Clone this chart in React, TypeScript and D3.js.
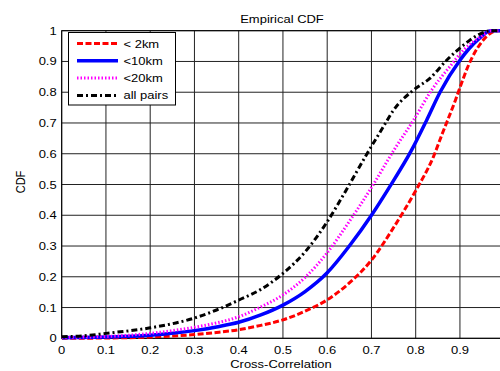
import { scaleLinear, line as d3Line, curveMonotoneX } from "d3";

const xTicks = [0, 0.1, 0.2, 0.3, 0.4, 0.5, 0.6, 0.7, 0.8, 0.9, 1];
const yTicks = [0, 0.1, 0.2, 0.3, 0.4, 0.5, 0.6, 0.7, 0.8, 0.9, 1];

const redX = [0, 0.1, 0.2, 0.3, 0.35, 0.4, 0.45, 0.5, 0.55, 0.6, 0.65, 0.7, 0.75, 0.8, 0.84, 0.86, 0.89, 0.9, 0.92, 0.95, 0.97, 0.985, 1];
const redY = [0, 0.001, 0.004, 0.012, 0.019, 0.028, 0.042, 0.06, 0.088, 0.125, 0.18, 0.254, 0.36, 0.48, 0.59, 0.665, 0.775, 0.815, 0.89, 0.965, 0.993, 1, 1];

const blueX = [0, 0.1, 0.2, 0.3, 0.35, 0.4, 0.45, 0.5, 0.55, 0.6, 0.65, 0.7, 0.74, 0.79, 0.825, 0.855, 0.9, 0.94, 0.97, 1];
const blueY = [0.002, 0.004, 0.01, 0.025, 0.037, 0.052, 0.076, 0.108, 0.152, 0.213, 0.3, 0.4, 0.49, 0.61, 0.71, 0.8, 0.904, 0.97, 1, 1];

const magentaX = [0, 0.1, 0.2, 0.3, 0.35, 0.4, 0.45, 0.5, 0.55, 0.6, 0.65, 0.7, 0.75, 0.795, 0.836, 0.877, 0.908, 0.946, 0.97, 1];
const magentaY = [0.003, 0.006, 0.016, 0.036, 0.05, 0.07, 0.102, 0.141, 0.198, 0.278, 0.38, 0.49, 0.61, 0.709, 0.807, 0.883, 0.937, 0.98, 1, 1];

const blackX = [0, 0.05, 0.1, 0.2, 0.3, 0.35, 0.4, 0.45, 0.5, 0.55, 0.6, 0.645, 0.69, 0.727, 0.75, 0.795, 0.832, 0.87, 0.908, 0.946, 0.97, 1];
const blackY = [0.005, 0.008, 0.016, 0.034, 0.066, 0.092, 0.124, 0.159, 0.211, 0.281, 0.379, 0.487, 0.6, 0.688, 0.742, 0.807, 0.845, 0.904, 0.953, 0.99, 1, 1];

const series = [
  { name: "< 2km", xs: redX, ys: redY, color: "#ff0000", width: 3, dash: "6,2.5" },
  { name: "<10km", xs: blueX, ys: blueY, color: "#0000ff", width: 3.5, dash: "" },
  { name: "<20km", xs: magentaX, ys: magentaY, color: "#ff00ff", width: 3, dash: "1.5,2" },
  { name: "all pairs", xs: blackX, ys: blackY, color: "#000000", width: 3, dash: "6,3,2,3" },
];

const W = 500;
const H = 371;
const left = 61.7;
const right = 504.2;
const top = 30.7;
const bottom = 338.3;
const font = "'Liberation Sans', Arial, sans-serif";
const stretch = 1.18;

function T({ x, y, anchor = "start", rotate = 0, children }: { x: number; y: number; anchor?: string; rotate?: number; children: any }) {
  return (
    <text
      transform={`translate(${x},${y}) scale(${stretch},1)${rotate ? ` rotate(${rotate})` : ""}`}
      fontSize={11}
      fontFamily={font}
      textAnchor={anchor}
      fill="#000"
    >
      {children}
    </text>
  );
}

export default function App() {
  const x = scaleLinear().domain([0, 1]).range([left, right]);
  const y = scaleLinear().domain([0, 1]).range([bottom, top]);

  const lineGen = d3Line<[number, number]>()
    .x((d) => x(d[0]))
    .y((d) => y(d[1]))
    .curve(curveMonotoneX);

  const legX = 68.5;
  const legY = 32.5;
  const rowH = 17.3;

  return (
    <div style={{ position: "absolute", left: 0, top: 0 }}>
      <svg width={W} height={H} style={{ display: "block", background: "#fff" }}>
        <defs>
          <clipPath id="plot">
            <rect x={left} y={top - 2} width={right - left} height={bottom - top + 4} />
          </clipPath>
        </defs>
        {/* grid */}
        {xTicks.map((t) => (
          <line key={"gx" + t} x1={x(t)} x2={x(t)} y1={top} y2={bottom} stroke="#222" strokeWidth={1} />
        ))}
        {yTicks.map((t) => (
          <line key={"gy" + t} x1={left} x2={right} y1={y(t)} y2={y(t)} stroke="#222" strokeWidth={1} />
        ))}
        <rect x={left} y={top} width={right - left} height={bottom - top} fill="none" stroke="#000" strokeWidth={1} />

        {/* curves */}
        <g clipPath="url(#plot)">
          {series.map((s) => (
            <path
              key={s.name}
              d={lineGen(s.xs.map((v, i) => [v, s.ys[i]] as [number, number])) || ""}
              fill="none"
              stroke={s.color}
              strokeWidth={s.width}
              strokeDasharray={s.dash || undefined}
            />
          ))}
        </g>

        {/* tick labels */}
        {xTicks.slice(0, 10).map((t) => (
          <T key={"xl" + t} x={x(t)} y={bottom + 15.5} anchor="middle">
            {String(t)}
          </T>
        ))}
        {yTicks.map((t) => (
          <T key={"yl" + t} x={left - 5} y={y(t) + 4} anchor="end">
            {String(t)}
          </T>
        ))}

        <T x={282} y={23} anchor="middle">Empirical CDF</T>
        <T x={281} y={368} anchor="middle">Cross-Correlation</T>
        <T x={25} y={182} anchor="middle" rotate={-90}>CDF</T>

        {/* legend */}
        <rect x={legX} y={legY} width={107} height={72.5} fill="#fff" stroke="#000" strokeWidth={1} />
        {series.map((s, i) => (
          <g key={"leg" + s.name}>
            <line
              x1={77}
              x2={118}
              y1={legY + 11 + i * rowH}
              y2={legY + 11 + i * rowH}
              stroke={s.color}
              strokeWidth={s.width}
              strokeDasharray={s.dash || undefined}
            />
            <T x={123.5} y={legY + 15 + i * rowH}>{s.name}</T>
          </g>
        ))}
      </svg>
    </div>
  );
}
